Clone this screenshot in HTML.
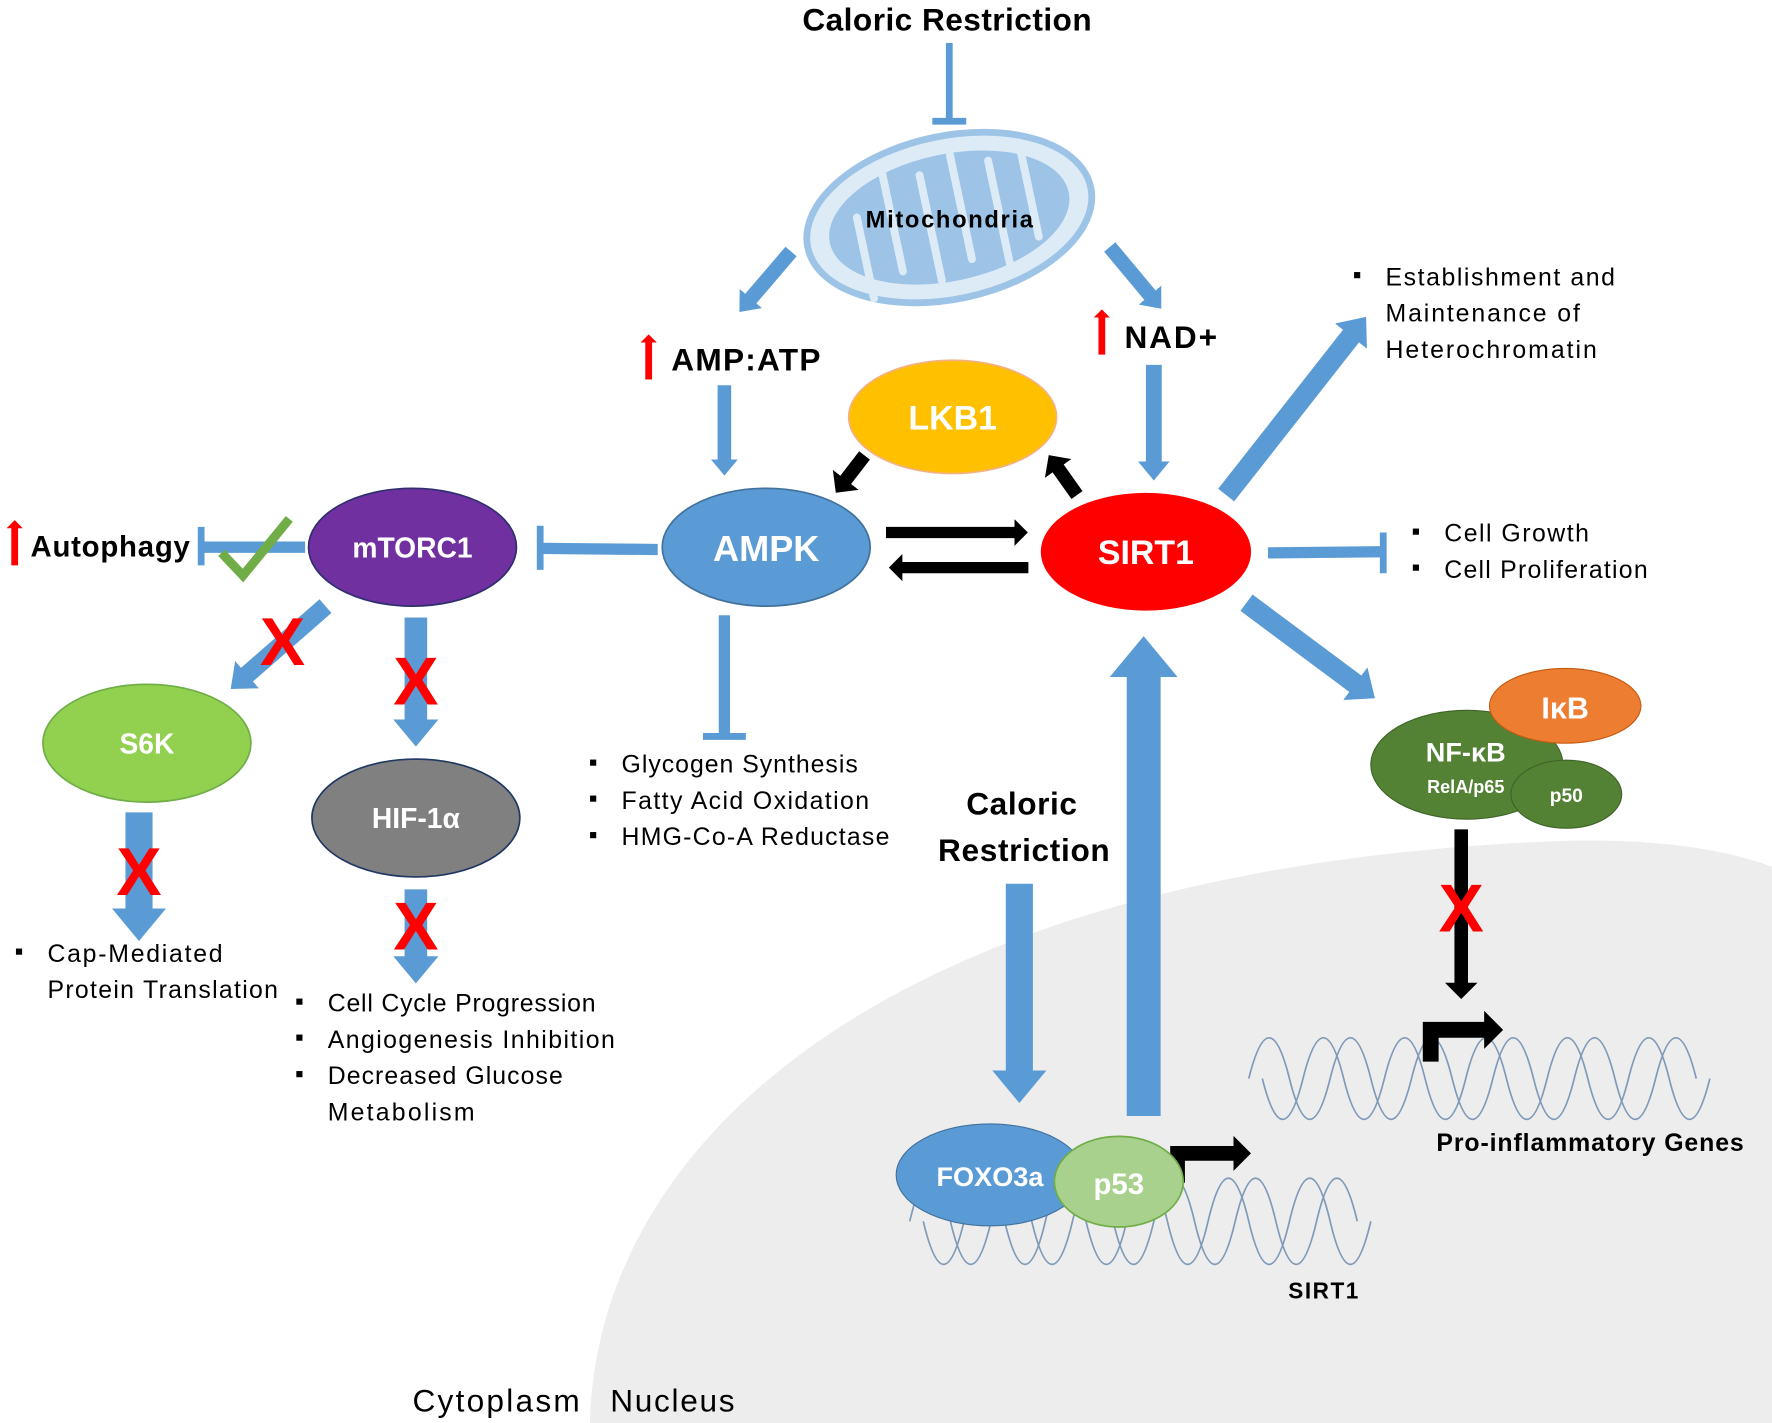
<!DOCTYPE html>
<html><head><meta charset="utf-8"><style>
html,body{margin:0;padding:0;background:#fff;}
svg{display:block;}
text{font-family:"Liberation Sans",sans-serif;}
.b{font-weight:bold;}
.w{fill:#fff;font-weight:bold;}
</style></head><body>
<svg width="1772" height="1423" viewBox="0 0 1568 1256" preserveAspectRatio="none" xmlns="http://www.w3.org/2000/svg">
<defs>
<marker id="ha" viewBox="0 0 1.2 2" refX="0.05" refY="1" markerWidth="1.2" markerHeight="2" orient="auto" markerUnits="strokeWidth"><path d="M0,0 L1.2,1 L0,2 z" fill="#5b9bd5"/></marker>
<marker id="hk" viewBox="0 0 1.2 2.4" refX="0.05" refY="1.2" markerWidth="1.2" markerHeight="2.4" orient="auto" markerUnits="strokeWidth"><path d="M0,0 L1.2,1.2 L0,2.4 z" fill="#000"/></marker>
<marker id="hr" viewBox="0 0 1.2 2.4" refX="0.05" refY="1.2" markerWidth="1.2" markerHeight="2.4" orient="auto" markerUnits="strokeWidth"><path d="M0,0 L1.2,1.2 L0,2.4 z" fill="#ff0000"/></marker>
</defs>
<rect width="1568" height="1256" fill="#fff"/>
<path d="M522,1256 C528,1000 800,762 1390,742 Q1500,740 1568,765 L1568,1256 Z" fill="#ededed"/>
<g fill="none" stroke="#7f9ab8" stroke-width="1.5">
<path d="M1105,952 q18,-72 36,0 t36,0 t36,0 t36,0 t36,0 t36,0 t36,0 t36,0 t36,0 t36,0 t36,0"/>
<path d="M1117,952 q18,72 36,0 t36,0 t36,0 t36,0 t36,0 t36,0 t36,0 t36,0 t36,0 t36,0 t36,0"/>
<path d="M805,1078 q18,-76 36,0 t36,0 t36,0 t36,0 t36,0 t36,0 t36,0 t36,0 t36,0 t36,0 t36,0"/>
<path d="M817,1078 q18,76 36,0 t36,0 t36,0 t36,0 t36,0 t36,0 t36,0 t36,0 t36,0 t36,0 t36,0"/>
</g>
<g stroke="#5b9bd5" fill="none">
<line x1="840" y1="38" x2="840" y2="106" stroke-width="6"/>
<line x1="825" y1="107" x2="855" y2="107" stroke-width="6"/>
<line x1="700" y1="222" x2="664" y2="264" stroke-width="13" marker-end="url(#ha)"/>
<line x1="982" y1="218" x2="1018" y2="261" stroke-width="13" marker-end="url(#ha)"/>
<line x1="641" y1="340" x2="641" y2="406" stroke-width="12" marker-end="url(#ha)"/>
<line x1="1021" y1="322" x2="1021" y2="408" stroke-width="14" marker-end="url(#ha)"/>
<line x1="1085" y1="437" x2="1196" y2="296" stroke-width="18" marker-end="url(#ha)"/>
<line x1="1122" y1="488" x2="1222" y2="487" stroke-width="10"/>
<line x1="1224" y1="470" x2="1224" y2="506" stroke-width="6"/>
<line x1="1103" y1="532" x2="1200" y2="604" stroke-width="18" marker-end="url(#ha)"/>
<line x1="1012" y1="985" x2="1012" y2="596" stroke-width="30" marker-end="url(#ha)"/>
<line x1="902" y1="780" x2="902" y2="946" stroke-width="24" marker-end="url(#ha)"/>
<line x1="582" y1="485" x2="478" y2="484" stroke-width="10"/>
<line x1="478" y1="464" x2="478" y2="503" stroke-width="6"/>
<line x1="641" y1="543" x2="641" y2="648" stroke-width="10"/>
<line x1="622" y1="650" x2="660" y2="650" stroke-width="6"/>
<line x1="270" y1="483" x2="178" y2="483" stroke-width="10"/>
<line x1="178" y1="465" x2="178" y2="499" stroke-width="6"/>
<line x1="288" y1="535" x2="218" y2="596" stroke-width="16" marker-end="url(#ha)"/>
<line x1="368" y1="545" x2="368" y2="636" stroke-width="20" marker-end="url(#ha)"/>
<line x1="123" y1="717" x2="123" y2="803" stroke-width="24" marker-end="url(#ha)"/>
<line x1="368" y1="785" x2="368" y2="845" stroke-width="20" marker-end="url(#ha)"/>
</g>
<g stroke="#000" fill="none">
<line x1="784" y1="470" x2="898" y2="470" stroke-width="10" marker-end="url(#hk)"/>
<line x1="910" y1="501" x2="798" y2="501" stroke-width="10" marker-end="url(#hk)"/>
<line x1="765" y1="402" x2="748" y2="424" stroke-width="12" marker-end="url(#hk)"/>
<line x1="953" y1="437" x2="936" y2="413" stroke-width="12" marker-end="url(#hk)"/>
<line x1="1293" y1="732" x2="1293" y2="868" stroke-width="12" marker-end="url(#hk)"/>
<path d="M1266,937 L1266,909 L1314,909" stroke-width="14" marker-end="url(#hk)"/>
<path d="M1042,1044 L1042,1018 L1092,1018" stroke-width="13" marker-end="url(#hk)"/>
</g>
<g stroke="#ff0000" fill="none">
<line x1="574" y1="335" x2="574" y2="302" stroke-width="6" marker-end="url(#hr)"/>
<line x1="975" y1="313" x2="975" y2="280" stroke-width="6" marker-end="url(#hr)"/>
<line x1="13" y1="499" x2="13" y2="466" stroke-width="6" marker-end="url(#hr)"/>
</g>
<path d="M196,488 L215,508 L256,458" stroke="#70ad47" stroke-width="8" fill="none"/>
<g transform="rotate(-12 840 192)">
<ellipse cx="840" cy="192" rx="128" ry="72" fill="#ddebf7" stroke="#9dc3e6" stroke-width="6"/>
<ellipse cx="840" cy="192" rx="108" ry="56" fill="#9dc3e6"/>
<g stroke="#ddebf7" stroke-width="7" stroke-linecap="round">
<line x1="760" y1="175" x2="760" y2="248"/><line x1="790" y1="140" x2="790" y2="230"/>
<line x1="822" y1="150" x2="822" y2="245"/><line x1="852" y1="138" x2="852" y2="232"/>
<line x1="884" y1="150" x2="884" y2="246"/><line x1="914" y1="140" x2="914" y2="225"/>
</g>
</g>
<text x="840" y="201" text-anchor="middle" class="b" font-size="21" textLength="148">Mitochondria</text>
<ellipse cx="843" cy="368" rx="92" ry="50" fill="#ffc000" stroke="#f4b183" stroke-width="1.5"/>
<text x="843" y="379" text-anchor="middle" class="w" font-size="30">LKB1</text>
<ellipse cx="678" cy="483" rx="92" ry="52" fill="#5b9bd5" stroke="#41719c" stroke-width="1.5"/>
<text x="678" y="495" text-anchor="middle" class="w" font-size="32">AMPK</text>
<ellipse cx="1014" cy="487" rx="93" ry="52" fill="#ff0000"/>
<text x="1014" y="498" text-anchor="middle" class="w" font-size="30">SIRT1</text>
<ellipse cx="365" cy="483" rx="92" ry="52" fill="#7030a0" stroke="#2f2f6f" stroke-width="1.5"/>
<text x="365" y="492" text-anchor="middle" class="w" font-size="25">mTORC1</text>
<ellipse cx="130" cy="656" rx="92" ry="52" fill="#92d050" stroke="#70ad47" stroke-width="1.5"/>
<text x="130" y="665" text-anchor="middle" class="w" font-size="25">S6K</text>
<ellipse cx="368" cy="722" rx="92" ry="52" fill="#808080" stroke="#203864" stroke-width="1.5"/>
<text x="368" y="731" text-anchor="middle" class="w" font-size="25">HIF-1α</text>
<ellipse cx="1298" cy="675" rx="85" ry="48" fill="#548235" stroke="#3f6328" stroke-width="1"/>
<ellipse cx="1385" cy="623" rx="67" ry="33" fill="#ed7d31" stroke="#c55a11" stroke-width="1"/>
<ellipse cx="1386" cy="701" rx="49" ry="30" fill="#548235" stroke="#3f6328" stroke-width="1"/>
<text x="1385" y="634" text-anchor="middle" class="w" font-size="27">IκB</text>
<text x="1297" y="672" text-anchor="middle" class="w" font-size="24">NF-κB</text>
<text x="1297" y="700" text-anchor="middle" class="w" font-size="16">RelA/p65</text>
<text x="1386" y="708" text-anchor="middle" class="w" font-size="17">p50</text>
<ellipse cx="876" cy="1037" rx="83" ry="45" fill="#5b9bd5" stroke="#41719c" stroke-width="1"/>
<text x="876" y="1047" text-anchor="middle" class="w" font-size="24">FOXO3a</text>
<ellipse cx="990" cy="1043" rx="57" ry="40" fill="#a9d18e" stroke="#70ad47" stroke-width="1.5"/>
<text x="990" y="1054" text-anchor="middle" class="w" font-size="26">p53</text>
<g fill="#ff0000" font-size="60" text-anchor="middle" font-weight="bold">
<text x="250" y="587">X</text><text x="368" y="622">X</text><text x="123" y="790">X</text><text x="368" y="838">X</text><text x="1293" y="822">X</text>
</g>
<text x="838" y="27" text-anchor="middle" class="b" font-size="28" textLength="256">Caloric Restriction</text>
<text x="594" y="327" class="b" font-size="28" textLength="132">AMP:ATP</text>
<text x="995" y="307" class="b" font-size="28" textLength="82">NAD+</text>
<text x="27" y="491" class="b" font-size="26" textLength="141">Autophagy</text>
<text x="904" y="719" text-anchor="middle" class="b" font-size="28" textLength="98">Caloric</text>
<text x="906" y="760" text-anchor="middle" class="b" font-size="28" textLength="152">Restriction</text>
<text x="1271" y="1016" class="b" font-size="22" textLength="272">Pro-inflammatory Genes</text>
<text x="1140" y="1146" class="b" font-size="20" textLength="62">SIRT1</text>
<text x="365" y="1246" font-size="28" textLength="148">Cytoplasm</text>
<text x="540" y="1246" font-size="28" textLength="110">Nucleus</text>
<g font-size="22">
<text x="1197" y="250">▪</text><text x="1226" y="252" textLength="203">Establishment and</text>
<text x="1226" y="284" textLength="172">Maintenance of</text>
<text x="1226" y="316" textLength="187">Heterochromatin</text>
<text x="1249" y="476">▪</text><text x="1278" y="478" textLength="128">Cell Growth</text>
<text x="1249" y="508">▪</text><text x="1278" y="510" textLength="180">Cell Proliferation</text>
<text x="521" y="680">▪</text><text x="550" y="682" textLength="209">Glycogen Synthesis</text>
<text x="521" y="712">▪</text><text x="550" y="714" textLength="219">Fatty Acid Oxidation</text>
<text x="521" y="744">▪</text><text x="550" y="746" textLength="237">HMG-Co-A Reductase</text>
<text x="13" y="847">▪</text><text x="42" y="849" textLength="155">Cap-Mediated</text>
<text x="42" y="881" textLength="204">Protein Translation</text>
<text x="261" y="891">▪</text><text x="290" y="893" textLength="237">Cell Cycle Progression</text>
<text x="261" y="923">▪</text><text x="290" y="925" textLength="254">Angiogenesis Inhibition</text>
<text x="261" y="955">▪</text><text x="290" y="957" textLength="208">Decreased Glucose</text>
<text x="290" y="989" textLength="130">Metabolism</text>
</g>
</svg>
</body></html>
